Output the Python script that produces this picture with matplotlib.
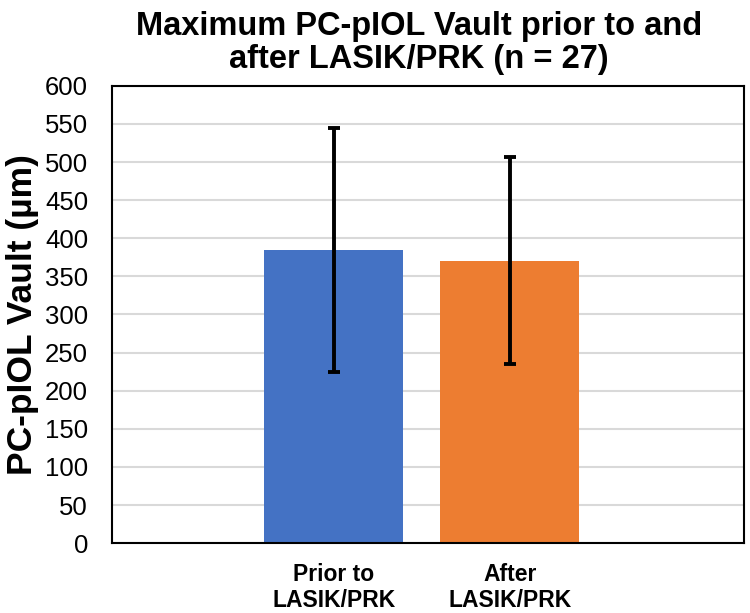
import matplotlib
matplotlib.use("Agg")
import matplotlib.pyplot as plt

plt.rcParams['font.family'] = ['Liberation Sans', 'DejaVu Sans']

# data
groups = ["Prior to\nLASIK/PRK", "After\nLASIK/PRK"]
vault_mean = [384.5, 370.5]
vault_sd = [160, 136]
bar_colors = ["#4472C4", "#ED7D31"]

fig = plt.figure(figsize=(7.5, 6.13), dpi=100)
ax = fig.add_axes([0.149, 0.114, 0.843, 0.746])

x = list(range(len(groups)))
ax.bar(x, vault_mean, width=0.79, color=bar_colors, zorder=2)
ax.errorbar(x, vault_mean, yerr=vault_sd, fmt='none', ecolor='black',
            elinewidth=2.8, capsize=4.5, capthick=2.8, zorder=3)

ax.set_ylim(0, 600)
ax.set_yticks(range(0, 601, 50))
ax.set_xlim(-1.26, 2.33)
ax.set_xticks(x)
ax.set_xticklabels(groups, fontsize=16.5, fontweight='bold')
ax.tick_params(axis='y', labelsize=18.5, length=0, pad=17)
ax.tick_params(axis='x', length=0, pad=14)
ax.yaxis.grid(True, color='#D9D9D9', linewidth=1.5, zorder=0)
ax.set_axisbelow(True)
for s in ax.spines.values():
    s.set_color('black')
    s.set_linewidth(1.5)

ax.set_ylabel("PC-pIOL Vault (µm)", fontsize=25.5, fontweight='bold', labelpad=4)
ax.set_title("Maximum PC-pIOL Vault prior to and\nafter LASIK/PRK (n = 27)",
             fontsize=23.5, fontweight='bold', pad=13, x=0.486, linespacing=1.08)

fig.savefig("out.png", dpi=100)
